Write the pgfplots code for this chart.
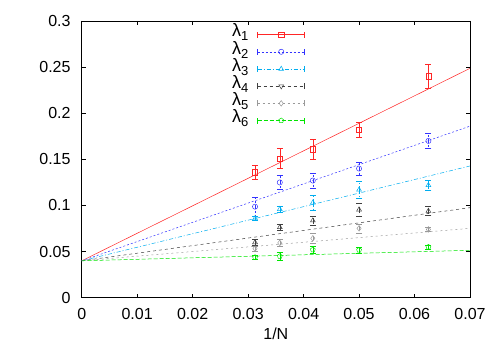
\documentclass[border=0pt]{standalone}
\usepackage{pgfplots}
\usepackage{pgfplotstable}
\pgfplotsset{compat=1.18}
\usepackage{fontspec}
\setmainfont{Liberation Sans}
\newcommand{\lam}[1]{{\fontsize{18bp}{18bp}\selectfont λ}\raisebox{-4bp}{\fontsize{13bp}{13bp}\selectfont #1}}
\pgfplotstableread{
x y ey
0.03125 0.136 0.008
0.035714 0.151 0.011
0.041667 0.161 0.011
0.05 0.182 0.008
0.0625 0.240 0.013
}\dataA
\pgfplotstableread{
x y ey
0.03125 0.0987 0.010
0.035714 0.125 0.0078
0.041667 0.127 0.0078
0.05 0.140 0.007
0.0625 0.170 0.008
}\dataB
\pgfplotstableread{
x y ey
0.03125 0.086 0.002
0.035714 0.096 0.003
0.041667 0.103 0.008
0.05 0.117 0.009
0.0625 0.122 0.005
}\dataC
\pgfplotstableread{
x y ey
0.03125 0.060 0.003
0.035714 0.0763 0.003
0.041667 0.0836 0.005
0.05 0.0955 0.007
0.0625 0.094 0.005
}\dataD
\pgfplotstableread{
x y ey
0.03125 0.0532 0.003
0.035714 0.0594 0.004
0.041667 0.0644 0.0055
0.05 0.0752 0.005
0.0625 0.074 0.002
}\dataE
\pgfplotstableread{
x y ey
0.03125 0.0438 0.002
0.035714 0.0450 0.004
0.041667 0.0520 0.004
0.05 0.0517 0.003
0.0625 0.0550 0.002
}\dataF
\pgfplotsset{
  sA/.style={red!85, line width=0.5bp, solid, mark=square, mark size=2.6bp},
  sB/.style={blue!80, line width=0.5bp, dash pattern=on 2bp off 2bp, mark=o, mark size=2.6bp},
  sC/.style={cyan, line width=0.5bp, dash pattern=on 4bp off 2bp on 1bp off 2bp, mark=triangle, mark size=2.8bp},
  sD/.style={black!75, line width=0.5bp, dash pattern=on 3bp off 3bp, mark=triangle, mark options={rotate=180}, mark size=2.8bp},
  sE/.style={black!40, line width=0.5bp, dash pattern=on 2bp off 3bp, mark=diamond, mark size=2.8bp},
  sF/.style={green!90!black, line width=0.5bp, dash pattern=on 4bp off 2bp, mark=pentagon, mark size=2.6bp},
  legimg/.style={legend image code/.code={
    \draw[mark=none] (0bp,0bp) -- (47bp,0bp);
    \draw[mark=none,solid] (0bp,-3bp) -- (0bp,3bp) (47bp,-3bp) -- (47bp,3bp);
    \draw[only marks,solid] plot coordinates {(23.5bp,0bp)};
  }},
  ebar/.style={error bars/.cd, y dir=both, y explicit, error mark options={rotate=90, mark size=3bp, solid}},
}
\begin{document}
\begin{tikzpicture}[font=\fontsize{16bp}{19bp}\selectfont]
\path[use as bounding box] (0,0) rectangle (500bp,350bp);
\begin{axis}[
  at={(81.7bp,52.3bp)}, anchor=south west,
  scale only axis, width=388.3bp, height=276.7bp,
  xmin=0, xmax=0.07, ymin=0, ymax=0.3,
  xtick={0,0.01,0.02,0.03,0.04,0.05,0.06,0.07},
  ytick={0,0.05,0.1,0.15,0.2,0.25,0.3},
  scaled ticks=false,
  tick align=inside, major tick length=4bp,
  tick style={black, line width=0.6bp},
  /pgf/number format/assume math mode=true,
  /pgf/number format/fixed,
  /pgf/number format/precision=2,
  xticklabel style={inner sep=0pt, anchor=north, yshift=-10bp},
  yticklabel style={inner sep=0pt, anchor=east, xshift=-11bp},
  xlabel={1/N},
  xlabel style={inner sep=0pt, anchor=north, at={(axis description cs:0.5,0)}, yshift=-30bp},
  axis line style={line width=0.8bp},
  legend plot pos=right,
  legend cell align=right,
  legend style={draw=none, fill=none, inner sep=0pt, outer sep=0pt,
    at={(0.575,0.982)}, anchor=north east, column sep=9bp, row sep=0pt,
    nodes={inner sep=0pt, text height=11bp, text depth=6.2bp}},
]
\addlegendimage{sA, legimg}\addlegendentry{\lam{1}}
\addlegendimage{sB, legimg}\addlegendentry{\lam{2}}
\addlegendimage{sC, legimg}\addlegendentry{\lam{3}}
\addlegendimage{sD, legimg}\addlegendentry{\lam{4}}
\addlegendimage{sE, legimg}\addlegendentry{\lam{5}}
\addlegendimage{sF, legimg}\addlegendentry{\lam{6}}

\addplot[sA, mark=none, forget plot] coordinates {(0,0.04) (0.07,0.2487)};
\addplot[sB, mark=none, forget plot] coordinates {(0,0.04) (0.07,0.186)};
\addplot[sC, mark=none, forget plot] coordinates {(0,0.04) (0.07,0.1428)};
\addplot[sD, mark=none, forget plot] coordinates {(0,0.04) (0.07,0.0976)};
\addplot[sE, mark=none, forget plot] coordinates {(0,0.04) (0.07,0.0752)};
\addplot[sF, mark=none, forget plot] coordinates {(0,0.04) (0.07,0.0514)};

\addplot[sA, only marks, forget plot, mark options={solid}, ebar] table[x=x,y=y,y error=ey] {\dataA};
\addplot[sB, only marks, forget plot, mark options={solid}, ebar] table[x=x,y=y,y error=ey] {\dataB};
\addplot[sC, only marks, forget plot, mark options={solid}, ebar] table[x=x,y=y,y error=ey] {\dataC};
\addplot[sD, only marks, forget plot, mark options={solid}, ebar] table[x=x,y=y,y error=ey] {\dataD};
\addplot[sE, only marks, forget plot, mark options={solid}, ebar] table[x=x,y=y,y error=ey] {\dataE};
\addplot[sF, only marks, forget plot, mark options={solid}, ebar] table[x=x,y=y,y error=ey] {\dataF};
\end{axis}
\end{tikzpicture}
\end{document}
